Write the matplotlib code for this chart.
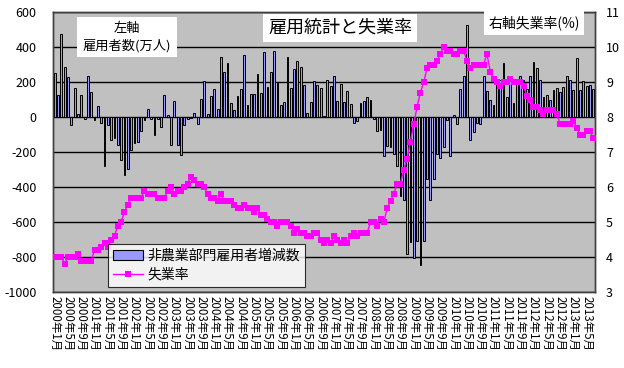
import matplotlib
matplotlib.use("Agg")
import matplotlib.pyplot as plt
from matplotlib.patches import Patch
from matplotlib.lines import Line2D
import numpy as np

plt.rcParams['font.family'] = ['Noto Sans CJK JP', 'DejaVu Sans']
plt.rcParams['axes.unicode_minus'] = False

# months 2000-01 .. 2013-07
years = list(range(2000, 2014))
months = [f"{y}年{m}月" for y in years for m in range(1, 13)][:163]

payrolls = [
    # 2000
    250, 125, 475, 286, 229, -46, 168, 15, 126, -10, 232, 143,
    # 2001
    -15, 61, -34, -282, -44, -130, -120, -162, -248, -330, -297, -187,
    # 2002
    -149, -140, -82, -15, 46, -10, -100, -10, -57, 126, 10, -158,
    # 2003
    93, -158, -219, -48, -10, -3, 23, -38, 103, 204, 19, 122,
    # 2004
    162, 46, 341, 255, 309, 80, 38, 122, 160, 352, 70, 133,
    # 2005
    133, 246, 137, 370, 171, 255, 379, 194, 70, 84, 341, 166,
    # 2006
    274, 318, 286, 183, 23, 84, 208, 185, 164, 4, 213, 175,
    # 2007
    236, 90, 190, 84, 147, 76, -34, -25, 80, 90, 114, 99,
    # 2008
    -10, -82, -72, -221, -168, -171, -210, -278, -453, -472, -783, -714,
    # 2009
    -806, -707, -844, -710, -354, -476, -354, -210, -234, -173, -19, -221,
    # 2010
    14, -40, 162, 232, 528, -130, -88, -34, -40, 232, 150, 99,
    # 2011
    70, 190, 210, 309, 114, 223, 80, 213, 232, 213, 160, 236,
    # 2012
    314, 280, 210, 114, 128, 95, 156, 166, 143, 171, 232, 213,
    # 2013
    156, 337, 152, 204, 179, 185, 162,
]

unemployment = [
    4.0, 4.0, 4.0, 3.8, 4.0, 4.0, 4.0, 4.1, 3.9, 3.9, 3.9, 3.9,
    4.2, 4.2, 4.3, 4.4, 4.3, 4.5, 4.6, 4.9, 5.0, 5.3, 5.5, 5.7,
    5.7, 5.7, 5.7, 5.9, 5.8, 5.8, 5.8, 5.7, 5.7, 5.7, 5.9, 6.0,
    5.8, 5.9, 5.9, 6.0, 6.1, 6.3, 6.2, 6.1, 6.1, 6.0, 5.8, 5.7,
    5.7, 5.6, 5.8, 5.6, 5.6, 5.6, 5.5, 5.4, 5.4, 5.5, 5.4, 5.4,
    5.3, 5.4, 5.2, 5.2, 5.1, 5.0, 5.0, 4.9, 5.0, 5.0, 5.0, 4.9,
    4.7, 4.8, 4.7, 4.7, 4.6, 4.6, 4.7, 4.7, 4.5, 4.4, 4.5, 4.4,
    4.6, 4.5, 4.4, 4.5, 4.4, 4.6, 4.7, 4.6, 4.7, 4.7, 4.7, 5.0,
    5.0, 4.9, 5.1, 5.0, 5.4, 5.6, 5.8, 6.1, 6.1, 6.5, 6.8, 7.3,
    7.8, 8.3, 8.7, 9.0, 9.4, 9.5, 9.5, 9.6, 9.8, 10.0, 9.9, 9.9,
    9.8, 9.8, 9.9, 9.9, 9.6, 9.4, 9.5, 9.5, 9.5, 9.5, 9.8, 9.3,
    9.1, 9.0, 8.9, 9.0, 9.0, 9.1, 9.0, 9.0, 9.0, 8.9, 8.6, 8.5,
    8.3, 8.3, 8.2, 8.1, 8.2, 8.2, 8.2, 8.1, 7.8, 7.8, 7.8, 7.8,
    7.9, 7.7, 7.5, 7.5, 7.6, 7.6, 7.4,
]

left_ticks = [-1000, -800, -600, -400, -200, 0, 200, 400, 600]
right_ticks = [3, 4, 5, 6, 7, 8, 9, 10, 11]

W, H = 624, 368
fig = plt.figure(figsize=(W / 100, H / 100), dpi=100)
fig.patch.set_facecolor('white')

L, R, T, B = 53, 595, 12, 292
ax = fig.add_axes([L / W, 1 - B / H, (R - L) / W, (B - T) / H])
ax.set_facecolor('#C0C0C0')

x = np.arange(len(months))
ax.bar(x, payrolls, width=0.55, color='#9999FF', edgecolor='black', linewidth=0.7, zorder=3)
ax.set_xlim(-0.5, len(months) - 0.5)
ax.set_ylim(-1000, 600)
ax.set_yticks(left_ticks)
ax.set_yticklabels([str(v) for v in left_ticks])
ax.yaxis.grid(True, color='black', linewidth=1.0, zorder=1)
ax.set_axisbelow(True)
ax.tick_params(axis='y', length=0, labelsize=9, pad=12)
ax.set_xticks(x[::4])
ax.set_xticklabels(months[::4], rotation=-90, fontsize=8.3, linespacing=0.9)
ax.tick_params(axis='x', length=0, pad=3)
for sp in ax.spines.values():
    sp.set_color('#404040')
    sp.set_linewidth(1.0)

ax2 = ax.twinx()
ax2.plot(x, unemployment, color='#FF00FF', linewidth=1.0, marker='s',
         markersize=3.8, markeredgewidth=0, zorder=5)
ax2.set_ylim(3, 11)
ax2.set_yticks(right_ticks)
ax2.set_yticklabels([str(v) for v in right_ticks])
ax2.tick_params(axis='y', length=0, labelsize=9, pad=8)
for sp in ax2.spines.values():
    sp.set_color('#404040')
    sp.set_linewidth(1.0)

# text boxes
fig.text(127 / W, 1 - 37 / H, "左軸\n雇用者数(万人)", ha='center', va='center',
         fontsize=9.5, linespacing=1.35,
         bbox=dict(facecolor='white', edgecolor='none', boxstyle='square,pad=0.4'))
fig.text(340 / W, 1 - 28 / H, "雇用統計と失業率", ha='center', va='center',
         fontsize=13,
         bbox=dict(facecolor='white', edgecolor='none', boxstyle='square,pad=0.25'))
fig.text(534 / W, 1 - 23 / H, "右軸失業率(%)", ha='center', va='center',
         fontsize=10,
         bbox=dict(facecolor='white', edgecolor='none', boxstyle='square,pad=0.3'))

handles = [Patch(facecolor='#9999FF', edgecolor='black', linewidth=0.8),
           Line2D([0], [0], color='#FF00FF', linewidth=1.0, marker='s',
                  markersize=3.8, markeredgewidth=0)]
leg = fig.legend(handles, ["非農業部門雇用者増減数", "失業率"],
                 loc='upper left', bbox_to_anchor=(108 / W, 1 - 244 / H),
                 bbox_transform=fig.transFigure, fontsize=10,
                 frameon=True, fancybox=False, borderpad=0.35,
                 handlelength=2.2, handletextpad=0.3, labelspacing=0.35,
                 borderaxespad=0)
leg.get_frame().set_edgecolor('black')
leg.get_frame().set_linewidth(0.8)
leg.get_frame().set_facecolor('white')
leg.set_zorder(10)

fig.savefig("out.png", dpi=100, facecolor='white')
